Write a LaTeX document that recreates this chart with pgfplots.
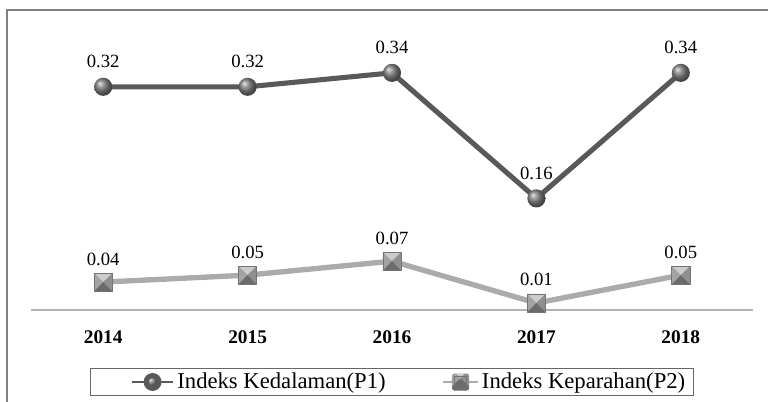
\documentclass[border=0pt]{standalone}
\usepackage{fontspec}
\setmainfont{Liberation Serif}
\usepackage{pgfplots}
\pgfplotsset{compat=1.18}
\definecolor{pone}{gray}{0.35}
\definecolor{ptwo}{gray}{0.67}
\pgfdeclareradialshading{myball}{\pgfqpoint{-10bp}{10bp}}{color(0bp)=(black!10); color(9bp)=(black!40); color(18bp)=(black!62); color(25bp)=(black!72); color(50bp)=(black!90)}
\pgfdeclareplotmark{myball}{%
  \pgfpathcircle{\pgfpointorigin}{\pgfplotmarksize}%
  \pgfshadepath{myball}{0}\pgfusepath{}}
\pgfdeclareplotmark{envsq}{%
  \pgfpathmoveto{\pgfpoint{-\pgfplotmarksize}{\pgfplotmarksize}}%
  \pgfpathlineto{\pgfpoint{\pgfplotmarksize}{\pgfplotmarksize}}%
  \pgfpathlineto{\pgfpointorigin}\pgfpathclose
  \pgfsetfillcolor{black!20}\pgfusepath{fill}%
  \pgfpathmoveto{\pgfpoint{-\pgfplotmarksize}{\pgfplotmarksize}}%
  \pgfpathlineto{\pgfpoint{-\pgfplotmarksize}{-\pgfplotmarksize}}%
  \pgfpathlineto{\pgfpointorigin}\pgfpathclose
  \pgfsetfillcolor{black!36}\pgfusepath{fill}%
  \pgfpathmoveto{\pgfpoint{\pgfplotmarksize}{\pgfplotmarksize}}%
  \pgfpathlineto{\pgfpoint{\pgfplotmarksize}{-\pgfplotmarksize}}%
  \pgfpathlineto{\pgfpointorigin}\pgfpathclose
  \pgfsetfillcolor{black!44}\pgfusepath{fill}%
  \pgfpathmoveto{\pgfpoint{-\pgfplotmarksize}{-\pgfplotmarksize}}%
  \pgfpathlineto{\pgfpoint{\pgfplotmarksize}{-\pgfplotmarksize}}%
  \pgfpathlineto{\pgfpointorigin}\pgfpathclose
  \pgfsetfillcolor{black!58}\pgfusepath{fill}%
  \pgfsetlinewidth{0.5pt}\pgfsetstrokecolor{black!55}%
  \pgfpathrectangle{\pgfpoint{-\pgfplotmarksize}{-\pgfplotmarksize}}{\pgfpoint{2\pgfplotmarksize}{2\pgfplotmarksize}}%
  \pgfusepath{stroke}}
\begin{document}
\begin{tikzpicture}
\useasboundingbox (0,0) rectangle (576pt,-301.5pt);
\draw[black!50, line width=1.5pt] (5pt,-320pt) -- (5pt,-7.5pt) -- (590pt,-7.5pt);
\begin{axis}[
  at={(23.25pt,-232.5pt)}, anchor=south west,
  scale only axis, width=541.5pt, height=209.25pt,
  xmin=-0.5, xmax=4.5, ymin=0, ymax=0.4,
  axis x line*=bottom, axis y line=none,
  x axis line style={black!30, line width=0.8pt, -},
  xtick={0,...,4}, xticklabels={2014,2015,2016,2017,2018},
  major tick length=0pt,
  xticklabel style={font=\fontsize{14.5}{16}\selectfont\bfseries, yshift=-12pt},
  ytick=\empty,
  clip=false,
  /pgf/number format/assume math mode=true,
  nodes near coords={\pgfmathprintnumber[fixed,fixed zerofill,precision=2]{\pgfplotspointmeta}},
  nodes near coords style={font=\fontsize{14}{16}\selectfont, anchor=south, yshift=9pt, text=black},
  legend style={at={(0.5,-0.258)}, anchor=center, legend columns=2, draw=black!60, line width=0.6pt,
    font=\fontsize{17}{19}\selectfont, inner xsep=4pt, inner ysep=1.5pt,
    /tikz/every even column/.append style={column sep=40pt}},
]
\addplot[pone, line width=3.8pt, line join=round, mark=myball, mark size=6.8pt,
  legend image code/.code={
    \path (-25pt,0pt);
    \draw[pone, line width=2.2pt] (0pt,0pt) -- (31pt,0pt);
    \shade[ball color=black!55] (15.5pt,0pt) circle (4.8pt);
  }] coordinates {(0,0.32) (1,0.32) (2,0.34) (3,0.16) (4,0.34)};
\addlegendentry{Indeks Kedalaman(P1)}
\addplot[ptwo, line width=4pt, line join=round, mark=envsq, mark size=6.8pt,
  legend image code/.code={
    \draw[ptwo, line width=2.2pt] (0pt,0pt) -- (26pt,0pt);
    \begin{scope}[shift={(13pt,0pt)}]
      \fill[black!20] (-4.5pt,4.5pt) -- (4.5pt,4.5pt) -- (0pt,0pt) -- cycle;
      \fill[black!36] (-4.5pt,4.5pt) -- (-4.5pt,-4.5pt) -- (0pt,0pt) -- cycle;
      \fill[black!44] (4.5pt,4.5pt) -- (4.5pt,-4.5pt) -- (0pt,0pt) -- cycle;
      \fill[black!58] (-4.5pt,-4.5pt) -- (4.5pt,-4.5pt) -- (0pt,0pt) -- cycle;
      \draw[black!55, line width=0.4pt] (-4.5pt,-4.5pt) rectangle (4.5pt,4.5pt);
    \end{scope}
  }] coordinates {(0,0.04) (1,0.05) (2,0.07) (3,0.01) (4,0.05)};
\addlegendentry{Indeks Keparahan(P2)}
\end{axis}
\end{tikzpicture}
\end{document}
